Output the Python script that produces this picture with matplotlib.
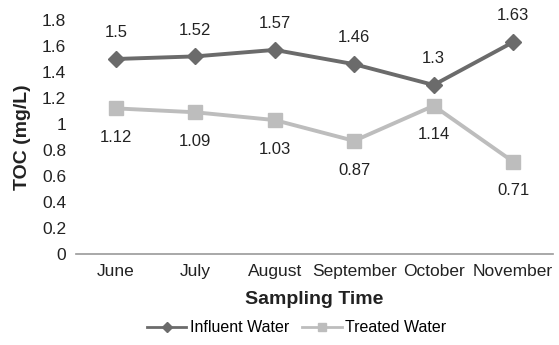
import matplotlib.pyplot as plt

plt.rcParams["font.family"] = ["Liberation Sans", "DejaVu Sans"]

months = ["June", "July", "August", "September", "October", "November"]
influent = [1.5, 1.52, 1.57, 1.46, 1.3, 1.63]
treated = [1.12, 1.09, 1.03, 0.87, 1.14, 0.71]

c_inf = "#6b6b6b"
c_trt = "#bdbdbd"

fig = plt.figure(figsize=(5.59, 3.45), dpi=100)
ax = fig.add_axes([0.136, 0.264, 0.853, 0.678])

x = list(range(len(months)))
ax.plot(x, influent, color=c_inf, lw=2.8, marker="D", ms=8.5, label="Influent Water")
ax.plot(x, treated, color=c_trt, lw=2.8, marker="s", ms=10.5, label="Treated Water")

for i, v in enumerate(influent):
    ax.annotate(f"{v:g}", (i, v), xytext=(0, 19), textcoords="offset points",
                ha="center", va="center", fontsize=12, color="#222222")
for i, v in enumerate(treated):
    ax.annotate(f"{v:g}", (i, v), xytext=(0, -21), textcoords="offset points",
                ha="center", va="center", fontsize=12, color="#222222")

ax.set_xlim(-0.5, 5.5)
ax.set_ylim(0, 1.8)
ax.set_yticks([0, 0.2, 0.4, 0.6, 0.8, 1.0, 1.2, 1.4, 1.6, 1.8])
ax.set_yticklabels(["0", "0.2", "0.4", "0.6", "0.8", "1", "1.2", "1.4", "1.6", "1.8"])
ax.set_xticks(x)
ax.set_xticklabels(months)
ax.tick_params(length=0, labelsize=12.5, colors="#222222", pad=7)
for s in ["top", "right", "left"]:
    ax.spines[s].set_visible(False)
ax.spines["bottom"].set_color("#999999")
ax.spines["bottom"].set_linewidth(1.2)

ax.set_ylabel("TOC (mg/L)", fontsize=14, fontweight="bold", color="#222222", labelpad=8)
ax.set_xlabel("Sampling Time", fontsize=14, fontweight="bold", color="#222222", labelpad=9)

leg = fig.legend(loc="center", bbox_to_anchor=(0.53, 0.05), ncol=2, frameon=False,
                 fontsize=11.5, handlelength=2.5, columnspacing=0.8, handletextpad=0.2,
                 markerscale=0.6, borderpad=0)
for ln in leg.get_lines():
    ln.set_linewidth(2.0)

fig.savefig("out.png", dpi=100)
